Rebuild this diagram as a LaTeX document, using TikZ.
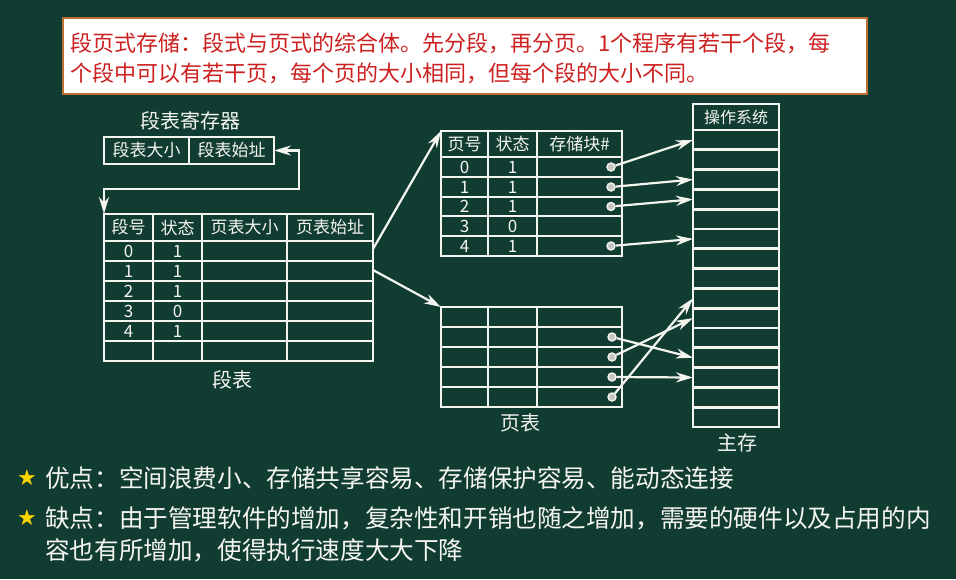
\documentclass[tikz,border=0pt]{standalone}
\usepackage{fontspec}
\setmainfont{Noto Sans CJK SC}
\newfontfamily\symfont{DejaVu Sans}
\usetikzlibrary{arrows.meta}
\definecolor{bg}{RGB}{17,60,50}
\definecolor{chalk}{RGB}{245,245,240}
\definecolor{redtext}{RGB}{205,32,32}
\definecolor{boxbrown}{RGB}{190,110,50}
\definecolor{staryellow}{RGB}{255,215,0}
\begin{document}
\begin{tikzpicture}[x=1pt,y=-1pt,
  gridline/.style={draw=chalk,line width=2.7pt},
  tbl/.style={draw=chalk,line width=2.7pt,inner sep=0pt,outer sep=0pt,anchor=north west},
  cell/.style={text=chalk,font=\fontsize{17}{17}\selectfont,inner sep=0pt},
  lbl/.style={text=chalk,font=\fontsize{20}{20}\selectfont,inner sep=0pt},
  bodytext/.style={text=chalk,font=\fontsize{24.6}{24.6}\selectfont,inner sep=0pt,anchor=west},
  redline/.style={text=redtext,font=\fontsize{22}{22}\selectfont,inner sep=0pt,anchor=west},
  starmark/.style={text=staryellow,font=\symfont\fontsize{22}{22}\selectfont,inner sep=0pt},
  arr/.style={draw=chalk,line width=2.2pt,-{Stealth[length=17pt,width=10pt]}},
  biarr/.style={draw=chalk,line width=2.2pt,{Stealth[length=17pt,width=10pt]}-{Stealth[length=17pt,width=10pt]}},
  pdot/.style={circle,draw=chalk,fill=chalk!60!gray,line width=1.4pt,minimum size=8pt,inner sep=0pt}
]
\fill[bg] (0,0) rectangle (956,579);
\useasboundingbox (0,0) rectangle (956,579);

% intro box
\node[draw=boxbrown,line width=2pt,fill=white,minimum width=804pt,minimum height=76pt,anchor=north west,inner sep=0pt] (intro) at (62,17) {};
\node[redline] (introa) at (70,43) {段页式存储：段式与页式的综合体。先分段，再分页。1个程序有若干个段，每};
\node[redline] (introb) at (70,73) {个段中可以有若干页，每个页的大小相同，但每个段的大小不同。};

% segment table register
\node[lbl] (reglbl) at (190,121) {段表寄存器};
\node[tbl,minimum width=170pt,minimum height=27pt] (reg) at (104,137) {};
\draw[gridline] (189,137) -- (189,164);
\node[cell] (rega) at (146.5,150.5) {段表大小};
\node[cell] (regb) at (231.5,150.5) {段表始址};

% segment table
\node[tbl,minimum width=269pt,minimum height=147pt] (seg) at (104,214) {};
\foreach \y in {241,261,281,301,321,341} \draw[gridline] (104,\y) -- (373,\y);
\foreach \x in {153,202,287} \draw[gridline] (\x,214) -- (\x,361);
\node[cell] (sh1) at (128.5,227.5) {段号};
\node[cell] (sh2) at (177.5,227.5) {状态};
\node[cell] (sh3) at (244.5,227.5) {页表大小};
\node[cell] (sh4) at (330,227.5) {页表始址};
\foreach \n/\s [count=\k from 0] in {0/1,1/1,2/1,3/0,4/1} {
  \node[cell] (sn\k) at (128.5,{251+20*\k}) {\n};
  \node[cell] (ss\k) at (177.5,{251+20*\k}) {\s};
}
\node[lbl] (seglbl) at (232,380) {段表};

% register link
\draw[biarr] (reg.east) -- (299,150.5) -- (299,189) -- (104,189) -- (seg.north west);

% page table 1
\node[tbl,minimum width=181pt,minimum height=125pt] (pt1) at (441,131) {};
\foreach \y in {157,177,197,216,236} \draw[gridline] (441,\y) -- (622,\y);
\foreach \x in {488,537} \draw[gridline] (\x,131) -- (\x,256);
\node[cell] (ph1) at (464.5,144) {页号};
\node[cell] (ph2) at (512.5,144) {状态};
\node[cell] (ph3) at (579.5,144) {存储块\#};
\foreach \n/\s/\yy [count=\k from 0] in {0/1/167,1/1/187,2/1/206.5,3/0/226,4/1/246} {
  \node[cell] (pn\k) at (464.5,\yy) {\n};
  \node[cell] (ps\k) at (512.5,\yy) {\s};
}
\node[lbl] (ptlbl) at (520,423) {页表};

% page table 2
\node[tbl,minimum width=181pt,minimum height=100pt] (pt2) at (441,307) {};
\foreach \y in {327,347,367,387} \draw[gridline] (441,\y) -- (622,\y);
\foreach \x in {488,537} \draw[gridline] (\x,307) -- (\x,407);

% main memory
\node[tbl,minimum width=86pt,minimum height=323pt] (mem) at (693,104) {};
\draw[gridline] (693,130) -- (779,130);
\foreach \i in {1,...,14} \draw[gridline] (693,{130+19.8*\i}) -- (779,{130+19.8*\i});
\node[text=chalk,font=\fontsize{16}{16}\selectfont,inner sep=0pt] (os) at (736,117) {操作系统};
\node[lbl] (memlbl) at (737,443) {主存};
\foreach \i in {1,...,15} \coordinate (m\i) at (693,{130+19.8*\i-9.9});

% segment table -> page tables
\coordinate (s0) at (373,249);
\coordinate (s1) at (373,270);
\draw[arr] (s0) -- (pt1.north west);
\draw[arr] (s1) -- (pt2.north west);

% page table dots
\node[pdot] (a0) at (611,167) {};
\node[pdot] (a1) at (611,187) {};
\node[pdot] (a2) at (611,206.5) {};
\node[pdot] (a4) at (611,246) {};
\node[pdot] (b1) at (612,337) {};
\node[pdot] (b2) at (612,357) {};
\node[pdot] (b3) at (612,377) {};
\node[pdot] (b4) at (612,397) {};

\draw[arr] (a0) -- (m1);
\draw[arr] (a1) -- (m3);
\draw[arr] (a2) -- (m4);
\draw[arr] (a4) -- (m6);
\draw[arr] (b1) -- (m12);
\draw[arr] (b2) -- (m10);
\draw[arr] (b3) -- (m13);
\draw[arr] (b4) -- (m9);

% bottom text
\node[starmark] (st1) at (27,478) {★};
\node[bodytext] (adv) at (45,478) {优点：空间浪费小、存储共享容易、存储保护容易、能动态连接};
\node[starmark] (st2) at (27,518) {★};
\node[bodytext] (disa) at (45,518) {缺点：由于管理软件的增加，复杂性和开销也随之增加，需要的硬件以及占用的内};
\node[bodytext] (disb) at (45,550) {容也有所增加，使得执行速度大大下降};
\end{tikzpicture}
\end{document}
